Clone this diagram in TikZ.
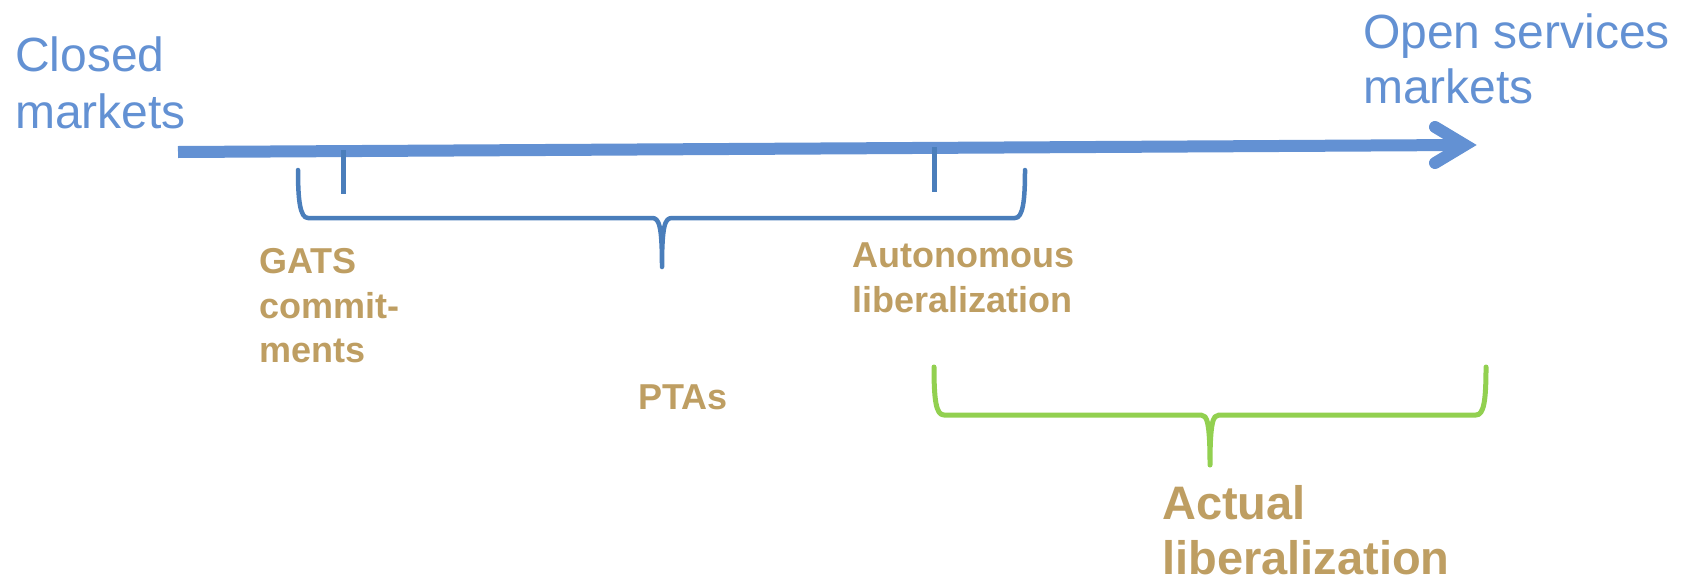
\documentclass[tikz,border=0pt]{standalone}
\usepackage{fontspec}
\setmainfont{Liberation Sans}
\definecolor{lblue}{HTML}{6391D3}
\definecolor{dblue}{HTML}{4A7EBB}
\definecolor{tan}{HTML}{BE9E62}
\definecolor{lgreen}{HTML}{92D050}
\begin{document}
\begin{tikzpicture}[x=1pt,y=-1pt,
  endlbl/.style={anchor=base west,inner sep=0pt,text=lblue,font=\fontsize{48}{57}\selectfont},
  midlbl/.style={anchor=base west,inner sep=0pt,text=tan,font=\fontsize{36}{45}\selectfont\bfseries},
  biglbl/.style={anchor=base west,inner sep=0pt,text=tan,font=\fontsize{47}{57}\selectfont\bfseries},
  axisline/.style={draw=lblue,line width=12pt},
  tickline/.style={draw=dblue,line width=5pt},
  bracebl/.style={draw=dblue,line width=4.5pt,line cap=round,line join=round},
  bracegr/.style={draw=lgreen,line width=5pt,line cap=round,line join=round}]
\useasboundingbox (0,0) rectangle (1685,581);
% labels
\node[endlbl] (closedA) at (15,71) {Closed};
\node[endlbl] (closedB) at (15,128) {markets};
\node[endlbl] (openA) at (1363,48) {Open services};
\node[endlbl] (openB) at (1363,103) {markets};
\node[midlbl] (gatsA) at (259,273) {GATS};
\node[midlbl] (gatsB) at (259,318) {commit-};
\node[midlbl] (gatsC) at (259,362) {ments};
\node[midlbl] (autoA) at (852,267) {Autonomous};
\node[midlbl] (autoB) at (852,312) {liberalization};
\node[midlbl] (ptas) at (638,409) {PTAs};
\node[biglbl] (actA) at (1162,519) {Actual};
\node[biglbl] (actB) at (1162,574) {liberalization};
% axis arrow
\coordinate (axS) at (178,152);
\coordinate (axE) at (1462,145);
\coordinate (tip) at (1465,145);
\coordinate (wingU) at (1435,127);
\coordinate (wingL) at (1435,163);
\draw[axisline] (axS) -- (axE);
\draw[axisline,line cap=round,line join=miter] (wingU) -- (tip) -- (wingL);
% ticks
\coordinate (t1a) at (343,150); \coordinate (t1b) at (343,194);
\coordinate (t2a) at (934,147); \coordinate (t2b) at (934,192);
\draw[tickline] (t1a) -- (t1b);
\draw[tickline] (t2a) -- (t2b);
% blue brace
\coordinate (bbL) at (298,170);
\coordinate (bbM) at (662,267);
\coordinate (bbR) at (1025,170);
\draw[bracebl] (bbL) .. controls (298,200) and (300,218) .. (308,218) -- (652,218)
  .. controls (659,218) and (662,225) .. (bbM)
  .. controls (662,225) and (665,218) .. (672,218) -- (1015,218)
  .. controls (1023,218) and (1025,200) .. (bbR);
% green brace
\coordinate (gbL) at (934,367);
\coordinate (gbM) at (1210,465);
\coordinate (gbR) at (1486,367);
\draw[bracegr] (gbL) .. controls (934,400) and (936,415) .. (944,415) -- (1201,415)
  .. controls (1207,415) and (1210,422) .. (gbM)
  .. controls (1210,422) and (1213,415) .. (1219,415) -- (1476,415)
  .. controls (1484,415) and (1486,400) .. (gbR);
\end{tikzpicture}
\end{document}
